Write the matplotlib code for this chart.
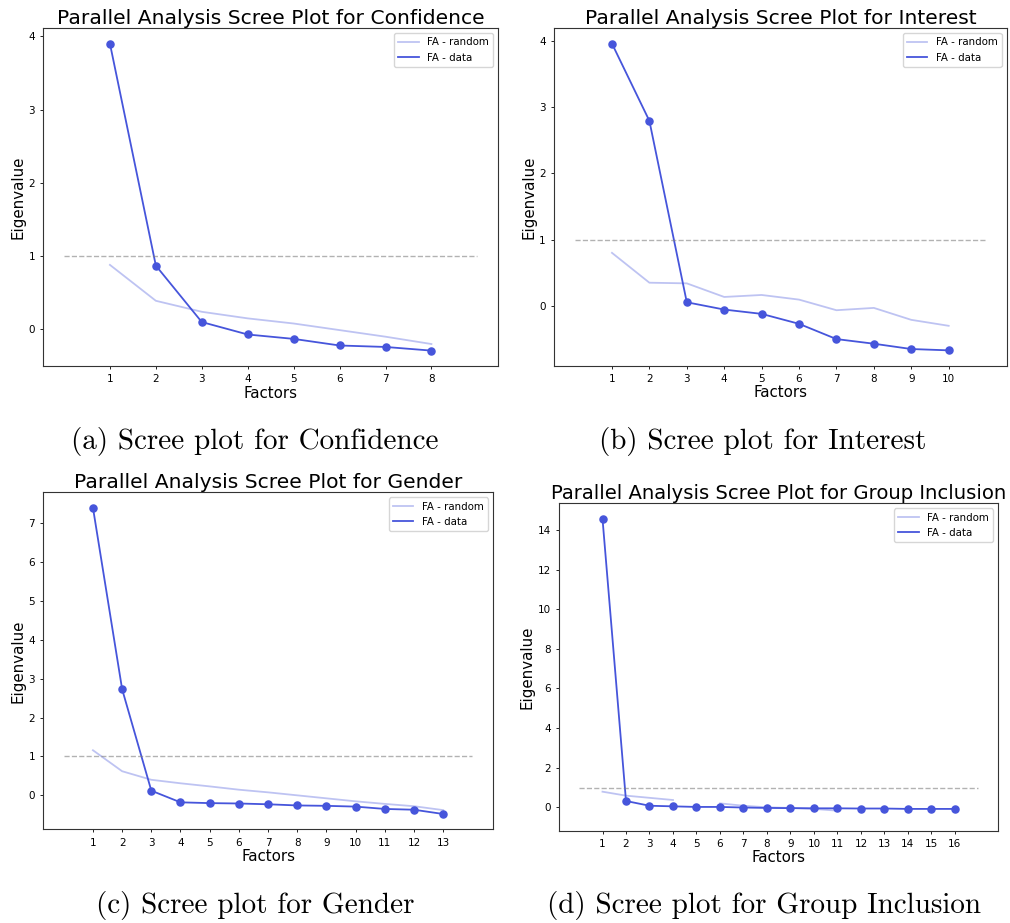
import numpy as np
import matplotlib
matplotlib.use("Agg")
import matplotlib.pyplot as plt

# eigenvalues
conf_data = [3.90, 0.87, 0.10, -0.07, -0.13, -0.22, -0.24, -0.29]
conf_random = [0.88, 0.39, 0.24, 0.15, 0.08, -0.01, -0.10, -0.20]

int_data = [3.955, 2.79, 0.055, -0.055, -0.12, -0.27, -0.50, -0.57, -0.65, -0.67]
int_random = [0.80, 0.35, 0.34, 0.135, 0.165, 0.095, -0.065, -0.03, -0.21, -0.30]

gen_data = [7.40, 2.73, 0.12, -0.18, -0.20, -0.21, -0.23, -0.26, -0.27, -0.29, -0.35, -0.37, -0.48]
gen_random = [1.16, 0.62, 0.40, 0.31, 0.23, 0.145, 0.077, 0.0, -0.077, -0.154, -0.22, -0.28, -0.38]

grp_data = [14.57, 0.32, 0.08, 0.05, 0.02, 0.02, -0.01, -0.03, -0.04, -0.05, -0.05, -0.06, -0.06, -0.08, -0.08, -0.08]
grp_random = [0.79, 0.59, 0.48, 0.37, np.nan, 0.20, 0.08, 0.0, -0.03, -0.08, -0.17,
              np.nan, np.nan, np.nan, np.nan, np.nan]

names = ["Confidence", "Interest", "Gender", "Group Inclusion"]
captions = ["(a) Scree plot for Confidence", "(b) Scree plot for Interest",
            "(c) Scree plot for Gender", "(d) Scree plot for Group Inclusion"]

panels = [(conf_data, conf_random), (int_data, int_random),
          (gen_data, gen_random), (grp_data, grp_random)]

# axes boxes [left, bottom, width, height] in figure fractions
boxes = [[0.0429, 0.6035, 0.4502, 0.3659],
         [0.5485, 0.6038, 0.4482, 0.3656],
         [0.0429, 0.1015, 0.4450, 0.3651],
         [0.5535, 0.1000, 0.4350, 0.3547]]
title_sizes = [14.6, 14.6, 14.6, 14.1]
caption_pos = [(0.2525, 0.522), (0.7555, 0.522), (0.2525, 0.0195), (0.7565, 0.0195)]

blue = "#4655DB"

fig = plt.figure(figsize=(10.10, 9.23), dpi=100)

for i, (data, rand) in enumerate(panels):
    ax = fig.add_axes(boxes[i])
    n = len(data)
    x = np.arange(1, n + 1)
    ax.plot(x, rand, color=blue, alpha=0.35, lw=1.3, label="FA - random")
    ax.plot(x, data, color=blue, lw=1.3, label="FA - data")
    ax.scatter(x, data, color=blue, s=26, zorder=3)
    ax.plot([0, n + 1], [1, 1], color="grey", ls="--", lw=1.0, alpha=0.6)
    ax.set_xticks(x)
    ax.tick_params(labelsize=7.5, length=2.5, width=0.6)
    ax.set_xlabel("Factors", fontsize=10.8, labelpad=1)
    ax.set_ylabel("Eigenvalue", fontsize=10.8, labelpad=2)
    ax.set_title(f"Parallel Analysis Scree Plot for {names[i]}", fontsize=title_sizes[i], pad=3)
    ax.legend(loc="upper right", fontsize=7.4)
    for s in ax.spines.values():
        s.set_linewidth(0.8)
        s.set_color("#333333")
    if i == 3:
        ax.set_ylim(-1.18, 15.35)

for (cx, cy), cap in zip(caption_pos, captions):
    fig.text(cx, cy, cap, ha="center", va="center", family="cmr10", fontsize=21)

fig.savefig("out.png", dpi=100)
